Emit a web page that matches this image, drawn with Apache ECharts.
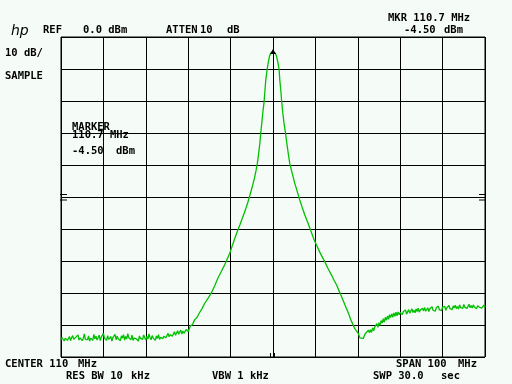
<!DOCTYPE html>
<html>
<head>
<meta charset="utf-8">
<script src="https://cdn.jsdelivr.net/npm/echarts@6/dist/echarts.min.js"></script>
<style>
html,body{margin:0;padding:0;background:#f5fbf7;}
#c{width:512px;height:384px;}
</style>
</head>
<body>
<div id="c"></div>
<script>
// Frequency axis (MHz): center 110, span 100
const freqMin = 60, freqMax = 160, freqStep = 10;
// Level axis (dBm): ref 0 dBm, 10 dB/div
const levelMin = -100, levelMax = 0, levelStep = 10;

// left noise floor
const floorLeftFreq = [
  60.00,60.25,60.50,60.75,61.00,61.25,61.50,61.75,
  62.00,62.25,62.50,62.75,63.00,63.25,63.50,63.75,
  64.00,64.25,64.50,64.75,65.00,65.25,65.50,65.75,
  66.00,66.25,66.50,66.75,67.00,67.25,67.50,67.75,
  68.00,68.25,68.50,68.75,69.00,69.25,69.50,69.75,
  70.00,70.25,70.50,70.75,71.00,71.25,71.50,71.75,
  72.00,72.25,72.50,72.75,73.00,73.25,73.50,73.75,
  74.00,74.25,74.50,74.75,75.00,75.25,75.50,75.75,
  76.00,76.25,76.50,76.75,77.00,77.25,77.50,77.75,
  78.00,78.25,78.50,78.75,79.00,79.25,79.50,79.75,
  80.00,80.25,80.50,80.75,81.00,81.25,81.50,81.75,
  82.00,82.25,82.50,82.75,83.00,83.25,83.50,83.75,
  84.00,84.25,84.50,84.75,85.00,85.25,85.50,85.75,
  86.00,86.25,86.50,86.75,87.00,87.25,87.50,87.75,
  88.00,88.25,88.50,88.75
];
const floorLeftLevel = [
  -94.6,-93.9,-94.3,-95.0,-94.1,-93.5,-94.8,-94.2,
  -93.6,-94.9,-94.0,-93.3,-94.5,-95.1,-93.8,-94.4,
  -93.1,-94.7,-94.0,-93.6,-94.9,-94.2,-92.8,-94.5,
  -93.9,-94.6,-93.4,-95.0,-94.1,-93.7,-94.8,-92.9,
  -94.3,-93.5,-94.7,-94.0,-93.2,-94.9,-93.8,-94.4,
  -92.6,-94.1,-93.7,-94.8,-93.3,-94.5,-94.0,-93.6,
  -95.0,-93.9,-94.2,-92.9,-94.6,-93.5,-94.3,-93.8,
  -94.9,-93.4,-94.1,-93.0,-94.7,-93.6,-94.4,-92.7,
  -94.0,-93.8,-94.6,-93.2,-94.8,-94.1,-93.5,-94.3,
  -93.9,-95.0,-93.4,-94.2,-93.7,-94.5,-93.1,-94.0,
  -94.7,-93.6,-94.4,-92.8,-93.9,-94.6,-93.3,-94.1,
  -93.7,-94.8,-93.4,-94.2,-93.0,-94.5,-93.8,-93.2,
  -94.3,-93.5,-92.9,-94.0,-93.4,-92.6,-93.7,-93.0,
  -92.4,-93.5,-92.8,-92.1,-93.2,-92.5,-91.8,-92.9,
  -92.3,-91.6,-92.8,-91.9
];

// filter response (skirts and peak)
const responseFreq = [
  89.0,89.5,90.0,90.5,91.0,91.5,92.1,92.7,93.3,93.9,
  94.7,95.5,96.3,97.0,97.8,98.6,99.2,99.8,100.4,101.0,
  101.6,102.2,102.7,103.2,103.7,104.1,104.5,104.9,105.3,105.7,
  106.0,106.3,106.6,106.9,107.1,107.35,107.6,107.9,108.1,108.3,
  108.6,108.85,109.2,109.6,110.0,110.4,110.8,111.2,111.45,111.6,
  111.85,112.05,112.3,112.6,112.9,113.2,113.6,113.95,114.35,114.75,
  115.1,115.5,115.9,116.3,116.9,117.5,118.2,118.85,119.5,120.25,
  121.2,122.2,123.0,123.8,124.4,125.0,125.5,126.0,126.5,126.95,
  127.5,127.95,128.35,128.75,129.15,129.55,130.1,130.5,130.9,131.3,
  131.7,132.1,132.5
];
const responseLevel = [
  -92.6,-91.4,-92.1,-90.3,-89.9,-88.4,-87.6,-86.1,-84.8,-83.2,
  -81.6,-79.9,-77.6,-75.4,-73.3,-71.2,-69.4,-67.6,-65.2,-62.9,
  -60.7,-58.7,-56.9,-55.1,-53.2,-51.5,-49.7,-47.8,-45.8,-43.7,
  -41.7,-39.5,-36.6,-33.2,-30.1,-27.0,-23.6,-20.2,-16.8,-13.4,
  -10.3,-8.2,-5.8,-4.9,-4.5,-4.9,-5.8,-8.2,-10.3,-13.4,
  -16.8,-20.2,-23.6,-27.0,-29.5,-32.6,-36.4,-39.5,-41.7,-43.7,
  -45.6,-47.3,-49.1,-50.9,-53.3,-55.6,-58.0,-60.3,-62.7,-65.0,
  -67.7,-70.2,-72.4,-74.4,-76.0,-77.5,-79.1,-80.6,-82.2,-83.7,
  -85.4,-86.9,-88.4,-89.5,-90.8,-91.6,-92.6,-94.0,-93.4,-94.2,
  -92.8,-93.3,-91.6
];

// right noise floor
const floorRightFreq = [
  132.75,133.00,133.25,133.50,133.75,134.00,134.25,134.50,134.75,135.00,
  135.25,135.50,135.75,136.00,136.25,136.50,136.75,137.00,137.25,137.50,
  137.75,138.00,138.25,138.50,138.75,139.00,139.25,139.50,139.75,140.00,
  140.25,140.50,140.75,141.00,141.25,141.50,141.75,142.00,142.25,142.50,
  142.75,143.00,143.25,143.50,143.75,144.00,144.25,144.50,144.75,145.00,
  145.25,145.50,145.75,146.00,146.25,146.50,146.75,147.00,147.25,147.50,
  147.75,148.00,148.25,148.50,148.75,149.00,149.25,149.50,149.75,150.00,
  150.25,150.50,150.75,151.00,151.25,151.50,151.75,152.00,152.25,152.50,
  152.75,153.00,153.25,153.50,153.75,154.00,154.25,154.50,154.75,155.00,
  155.25,155.50,155.75,156.00,156.25,156.50,156.75,157.00,157.25,157.50,
  157.75,158.00,158.25,158.50,158.75,159.00,159.25,159.50,159.75,160.00
];
const floorRightLevel = [
  -92.4,-91.5,-92.3,-90.9,-91.8,-90.6,-91.2,-89.6,-90.7,-89.3,
  -90.1,-88.6,-89.4,-88.0,-89.1,-87.6,-88.5,-87.2,-88.2,-86.8,
  -87.7,-86.5,-87.6,-86.2,-87.3,-86.0,-87.1,-85.9,-86.8,-86.1,
  -85.5,-86.7,-85.8,-86.4,-85.3,-86.6,-85.9,-85.2,-86.3,-85.6,
  -84.9,-86.1,-85.4,-86.2,-85.0,-85.8,-84.7,-86.0,-85.3,-85.9,
  -84.8,-85.6,-84.5,-85.7,-85.1,-84.6,-85.8,-84.9,-85.5,-84.3,
  -85.4,-84.8,-85.7,-84.6,-85.2,-84.1,-85.3,-84.7,-85.5,-84.4,
  -85.0,-84.2,-85.4,-84.6,-85.1,-83.9,-84.9,-84.3,-85.2,-84.0,
  -84.7,-83.8,-84.9,-84.2,-85.0,-83.7,-84.6,-84.1,-84.8,-83.6,
  -84.5,-83.9,-84.8,-84.2,-83.5,-84.6,-83.9,-84.7,-83.7,-84.4,
  -83.8,-84.9,-84.0,-83.6,-84.5,-83.9,-84.7,-84.1,-83.8,-84.4
];

const freqMHz = floorLeftFreq.concat(responseFreq, floorRightFreq);
const levelDbm = floorLeftLevel.concat(responseLevel, floorRightLevel);

const FONT = 'bold 10.5px "DejaVu Sans Mono"';
const labels = [
  ['REF', 43, 30], ['0.0 dBm', 83, 30], ['ATTEN', 166, 30], ['10', 200, 30], ['dB', 227, 30],
  ['MKR 110.7 MHz', 388, 18], ['-4.50', 404, 30], ['dBm', 444, 30],
  ['10 dB/', 5, 53], ['SAMPLE', 5, 76],
  ['MARKER', 72, 127], ['110.7 MHz', 72, 135], ['-4.50', 72, 151], ['dBm', 116, 151],
  ['CENTER 110', 5, 364], ['MHz', 78, 364],
  ['RES BW 10', 66, 376], ['kHz', 131, 376],
  ['VBW 1 kHz', 212, 376],
  ['SPAN 100', 396, 364], ['MHz', 458, 364],
  ['SWP 30.0', 373, 376], ['sec', 441, 376]
];

const chart = echarts.init(document.getElementById('c'), null, {renderer: 'canvas'});

const graphics = labels.map(([t, x, y]) => ({
  type: 'text', x: x, y: y, silent: true,
  style: {text: t, font: FONT, fill: '#000', verticalAlign: 'middle', align: 'left'}
}));
graphics.push({
  type: 'text', x: 11, y: 31, silent: true,
  style: {text: 'hp', font: 'italic 14px "DejaVu Sans"', fill: '#000', verticalAlign: 'middle'}
});
// reference-level "=" marks and center tick marks
[[60, 194.5, 67, 194.5], [60, 200, 67, 200], [479, 194.5, 485, 194.5], [479, 200, 485, 200],
 [270.5, 353, 270.5, 357], [274.5, 353, 274.5, 357]].forEach(([x1, y1, x2, y2]) => {
  graphics.push({type: 'line', silent: true, shape: {x1, y1, x2, y2}, style: {stroke: '#000', lineWidth: 1}});
});

chart.setOption({
  animation: false,
  backgroundColor: '#f5fbf7',
  grid: {left: 61, right: 27, top: 37, bottom: 27, show: true, borderColor: '#000', borderWidth: 1},
  xAxis: {
    type: 'value', min: freqMin, max: freqMax, interval: freqStep,
    axisLine: {show: false}, axisTick: {show: false}, axisLabel: {show: false},
    splitLine: {show: true, lineStyle: {color: '#000', width: 1}}
  },
  yAxis: {
    type: 'value', min: levelMin, max: levelMax, interval: levelStep,
    axisLine: {show: false}, axisTick: {show: false}, axisLabel: {show: false},
    splitLine: {show: true, lineStyle: {color: '#000', width: 1}}
  },
  series: [{
    type: 'line',
    data: freqMHz.map((f, i) => [f, levelDbm[i]]),
    showSymbol: false, symbol: 'none',
    lineStyle: {color: '#00c000', width: 1.3},
    markPoint: {
      symbol: 'triangle', symbolSize: [6, 5],
      itemStyle: {color: '#000'}, label: {show: false},
      data: [{type: 'max'}]
    }
  }],
  graphic: graphics
});
</script>
</body>
</html>
